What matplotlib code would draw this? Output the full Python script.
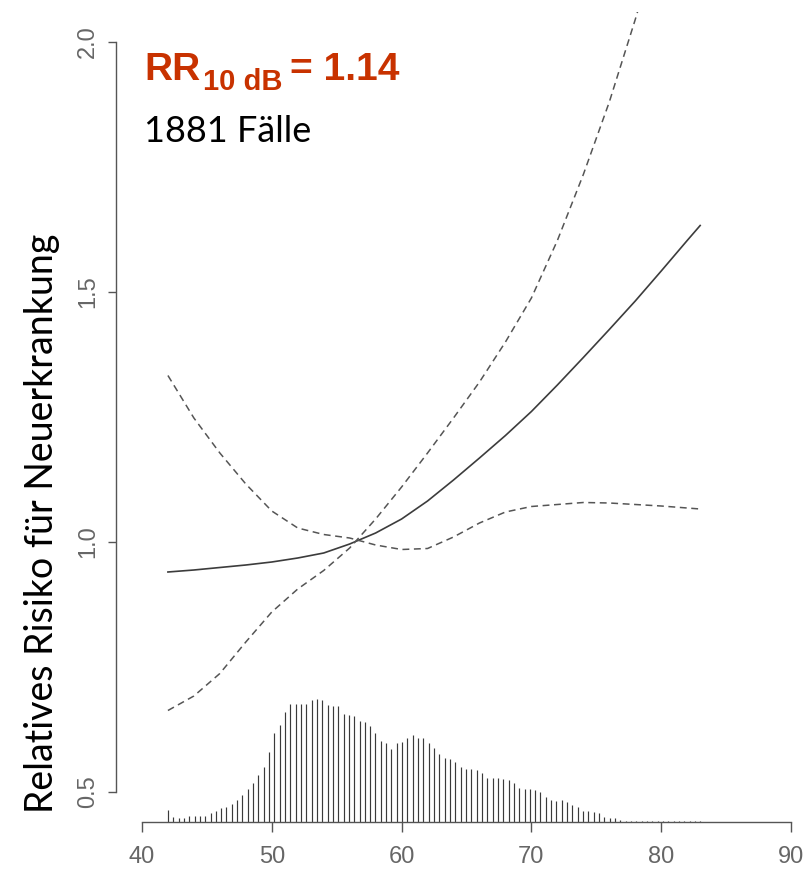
import matplotlib.pyplot as plt
import numpy as np

# noise level grid (dB) and exposure-response curve with 95% CI
noise_db = [42, 44, 46, 48, 50, 52, 54, 56, 58, 60, 62, 64, 66, 68, 70, 72, 74, 76, 78, 80, 82, 83]
rr_est = [0.940, 0.944, 0.949, 0.954, 0.960, 0.968, 0.978, 0.996, 1.018, 1.046, 1.082,
          1.124, 1.168, 1.213, 1.261, 1.314, 1.369, 1.425, 1.482, 1.542, 1.603, 1.633]
ci_lower = [1.333, 1.248, 1.178, 1.116, 1.062, 1.028, 1.015, 1.008, 0.994, 0.985, 0.987,
            1.010, 1.038, 1.060, 1.071, 1.075, 1.079, 1.078, 1.075, 1.072, 1.068, 1.066]
ci_upper = [0.663, 0.692, 0.737, 0.800, 0.860, 0.906, 0.943, 0.988, 1.046, 1.110,
            1.178, 1.248, 1.320, 1.400, 1.488, 1.603, 1.735, 1.880, 2.045, 2.220]

# distribution of cases over noise level (relative, peak = 100), bins from 42 to 83 dB
hist_freq = [10, 4, 3, 3, 5, 5, 5, 5, 7, 9, 11, 12, 15, 18, 22, 27, 32, 38, 45, 57,
             72, 79, 89, 96, 96, 96, 96, 99, 100, 99, 95, 94, 94, 88, 87, 86, 82, 81, 78, 72,
             66, 64, 59, 64, 65, 68, 71, 68, 68, 64, 60, 55, 52, 51, 49, 45, 43, 43, 42, 40,
             36, 36, 36, 35, 34, 32, 28, 27, 27, 26, 24, 20, 18, 17, 18, 16, 14, 12, 9, 9,
             8, 7, 4, 3, 3, 2, 1, 1, 1, 1, 1, 1, 1, 1, 1, 1, 1, 1, 1, 1, 1]
hist_lo, hist_hi = 42, 83

x_ticks = [40, 50, 60, 70, 80, 90]
y_ticks = [0.5, 1.0, 1.5, 2.0]
y_tick_labels = ['0.5', '1.0', '1.5', '2.0']

W, H = 804, 876
fig = plt.figure(figsize=(W / 100, H / 100), dpi=100)
ax = fig.add_axes([116 / W, 54 / H, 701 / W, 810 / H])
ax.set_xlim(38, 92)
ax.set_ylim(0.44, 2.06)

# rug-style histogram standing on the x axis
ylo, yhi = ax.get_ylim()
hx = np.linspace(hist_lo, hist_hi, len(hist_freq))
hh = np.array(hist_freq) / max(hist_freq) * 0.152 * (yhi - ylo)
ax.vlines(hx, ylo, ylo + hh, color='#3a3a3a', lw=0.85)

ax.plot(noise_db, rr_est, color='#3c3c3c', lw=1.2)
ax.plot(noise_db, ci_lower, color='#555555', lw=1.1, dashes=(4.5, 3))
ax.plot(noise_db[:len(ci_upper)], ci_upper, color='#555555', lw=1.1, dashes=(4.5, 3))

# R-like axes
for s in ['top', 'right']:
    ax.spines[s].set_visible(False)
ax.spines['left'].set_bounds(0.5, 2.0)
ax.spines['bottom'].set_bounds(40, 90)
for s in ['left', 'bottom']:
    ax.spines[s].set_color('#555555')
    ax.spines[s].set_linewidth(1.0)

ax.set_xticks(x_ticks)
ax.set_yticks(y_ticks)
ax.set_yticklabels(y_tick_labels)
ax.tick_params(axis='x', length=7, width=1.0, color='#555555', pad=10,
               labelsize=17, labelcolor='#666666')
ax.tick_params(axis='y', length=6, width=1.0, color='#555555', pad=6,
               labelsize=17, labelcolor='#666666', labelrotation=90)
for lbl in ax.get_xticklabels() + ax.get_yticklabels():
    lbl.set_fontfamily('Liberation Sans')
for lbl in ax.get_yticklabels():
    lbl.set_va('center')

# annotation text
def px(x, y):
    return x / W, 1 - y / H

red = '#C83200'
fig.text(*px(144, 80), 'RR', color=red, fontsize=28, fontweight='bold',
         family='Liberation Sans', va='baseline')
fig.text(*px(203, 90), '10 dB', color=red, fontsize=21, fontweight='bold',
         family='Liberation Sans', va='baseline')
fig.text(*px(290, 80), '= 1.14', color=red, fontsize=28, fontweight='bold',
         family='Liberation Sans', va='baseline')
fig.text(*px(144, 142), '1881 Fälle', color='black', fontsize=26, family='Lato',
         va='baseline')

fig.text(*px(53, 523), 'Relatives Risiko für Neuerkrankung', color='black', fontsize=27,
         family='Lato', rotation=90, rotation_mode='anchor', ha='center', va='baseline')

plt.savefig('out.png', dpi=100)
